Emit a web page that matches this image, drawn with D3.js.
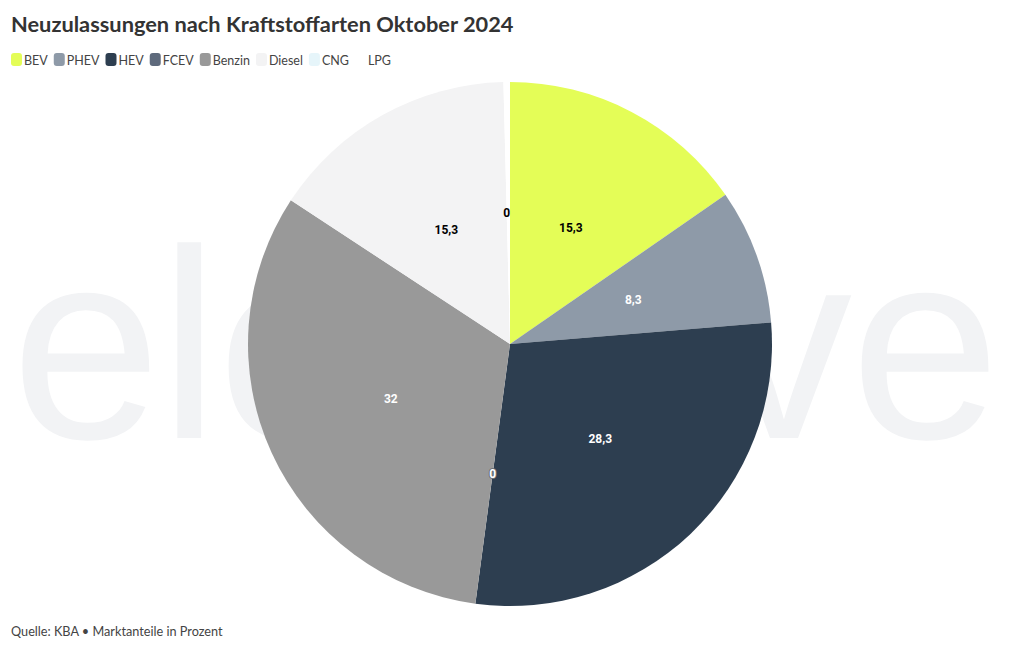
<!DOCTYPE html>
<html>
<head>
<meta charset="utf-8">
<script src="https://cdn.jsdelivr.net/npm/d3@7"></script>
<style>
  body { margin: 0; background: #fff; }
  svg { display: block; }
</style>
</head>
<body>
<svg width="1020" height="650"></svg>
<script>
var categories = ['BEV', 'PHEV', 'HEV', 'FCEV', 'Benzin', 'Diesel', 'CNG', 'LPG'];
var shares     = [15.3, 8.3, 28.3, 0, 32, 15.3, 0, 0.4];
var colors     = ['#e4fd57', '#8e9aa8', '#2d3e50', '#5e6a7c', '#999999', '#f3f3f4', '#e6f5fa', '#ffffff'];
var labelInk   = ['#000', '#fff', '#fff', '#fff', '#fff', '#000', '#000', 'none'];

var svg = d3.select('svg');

// watermark
svg.append('text')
   .attr('x', 11)
   .attr('y', 438)
   .attr('style', 'font-family: "Liberation Sans", Arial, sans-serif; font-size: 270px; fill: #f2f3f5; letter-spacing: -2px;')
   .text('electrive');

// title
svg.append('text')
   .attr('x', 11)
   .attr('y', 32)
   .attr('style', 'font-family: Lato, sans-serif; font-weight: 700; font-size: 21.8px; fill: #333;')
   .text('Neuzulassungen nach Kraftstoffarten Oktober 2024');

// legend
var lx = 11;
categories.forEach(function(c, i){
	svg.append('rect')
	   .attr('x', lx).attr('y', 53).attr('width', 11).attr('height', 13)
	   .attr('rx', 3).attr('ry', 3)
	   .attr('fill', colors[i]);
	var t = svg.append('text')
	   .attr('x', lx + 13)
	   .attr('y', 65)
	   .attr('style', 'font-family: Lato, sans-serif; font-size: 12.5px; fill: #444;')
	   .text(c);
	lx += 13 + t.node().getComputedTextLength() + 6;
});

// pie
var cx = 510, cy = 344, R = 262;
var pie = d3.pie().sort(null).value(function(d){ return d; });
var arcs = pie(shares);
var arc = d3.arc().innerRadius(0).outerRadius(R);
var labelArc = d3.arc().innerRadius(R * 0.5).outerRadius(R * 0.5);

var g = svg.append('g').attr('transform', 'translate(' + cx + ',' + cy + ')');

g.selectAll('path.slice')
 .data(arcs)
 .enter().append('path')
 .attr('class', 'slice')
 .attr('d', arc)
 .attr('fill', function(d, i){ return colors[i]; });

g.selectAll('text.lbl')
 .data(arcs)
 .enter().append('text')
 .attr('class', 'lbl')
 .attr('transform', function(d){ return 'translate(' + labelArc.centroid(d) + ')'; })
 .attr('text-anchor', 'middle')
 .attr('dy', '0.35em')
 .attr('style', function(d, i){
 	var halo = (i === 3) ? ' stroke: #6b6f76; stroke-width: 2px; paint-order: stroke;' : '';
 	return 'font-family: "Liberation Sans Narrow", "Roboto", sans-serif; font-weight: 700; font-size: 12px; fill: ' + labelInk[i] + ';' + halo;
 })
 .text(function(d){ return String(d.data).replace('.', ','); });

// source line
svg.append('text')
   .attr('x', 11)
   .attr('y', 636)
   .attr('style', 'font-family: Lato, sans-serif; font-size: 12.7px; fill: #444;')
   .text('Quelle: KBA \u2022 Marktanteile in Prozent');
</script>
</body>
</html>
